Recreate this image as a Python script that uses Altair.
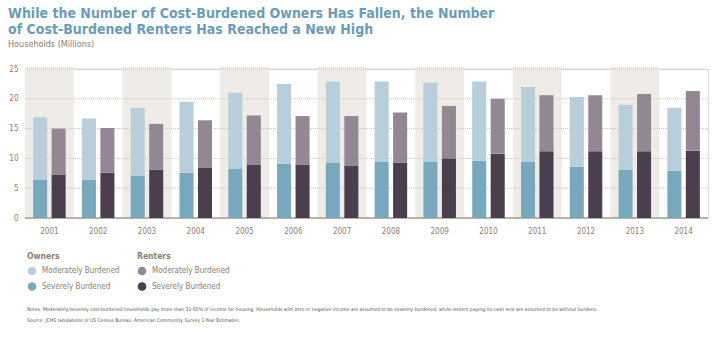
import altair as alt
import pandas as pd

years = ["2001", "2002", "2003", "2004", "2005", "2006", "2007",
         "2008", "2009", "2010", "2011", "2012", "2013", "2014"]
owners_severe = [6.4, 6.4, 7.1, 7.6, 8.3, 9.1, 9.3, 9.4, 9.4, 9.6, 9.4, 8.6, 8.1, 7.9]
owners_moderate = [10.5, 10.3, 11.4, 11.9, 12.7, 13.4, 13.6, 13.5, 13.3, 13.3, 12.6, 11.7, 10.9, 10.6]
renters_severe = [7.3, 7.6, 8.1, 8.4, 8.9, 8.9, 8.8, 9.3, 10.0, 10.8, 11.2, 11.2, 11.2, 11.3]
renters_moderate = [7.7, 7.5, 7.7, 8.0, 8.3, 8.2, 8.3, 8.4, 8.8, 9.2, 9.4, 9.4, 9.6, 10.0]

tenures = ["Owners", "Renters"]
burdens = ["Moderately Burdened", "Severely Burdened"]
series_domain = ["Owners Moderately Burdened", "Owners Severely Burdened",
                 "Renters Moderately Burdened", "Renters Severely Burdened"]
series_colors = ["#b8cedb", "#78a8be", "#928792", "#4a3e4f"]
y_ticks = [0, 5, 10, 15, 20, 25]

title_lines = ["While the Number of Cost-Burdened Owners Has Fallen, the Number",
               "of Cost-Burdened Renters Has Reached a New High"]
subtitle = "Households (Millions)"
notes = ["Notes: Moderately/severely cost-burdened households pay more than 31-50% of income for housing. Households with zero or negative income are assumed to be severely burdened, while renters paying no cash rent are assumed to be without burdens.",
         "Source: JCHS tabulations of US Census Bureau, American Community Survey 1-Year Estimates."]

FONT = "DejaVu Sans Condensed, Roboto Condensed, Liberation Sans Narrow, Arial Narrow, Roboto"
TXT = "#8c7d6f"
W, H = 683, 149

rows = []
for i, yr in enumerate(years):
    for tenure, sev, mod in (("Owners", owners_severe, owners_moderate),
                             ("Renters", renters_severe, renters_moderate)):
        rows.append(dict(year=yr, tenure=tenure, order=0, value=sev[i],
                         series=f"{tenure} Severely Burdened"))
        rows.append(dict(year=yr, tenure=tenure, order=1, value=mod[i],
                         series=f"{tenure} Moderately Burdened"))
df = pd.DataFrame(rows)

x_scale = alt.Scale(domain=years, paddingInner=0, paddingOuter=0)
y_scale = alt.Scale(domain=[0, 25], nice=False, zero=True)
x_axis = alt.Axis(labelAngle=0, ticks=False, domain=False, labelFont=FONT,
                  labelFontSize=8, labelColor=TXT, labelPadding=9, title=None, grid=False)
y_axis = alt.Axis(values=y_ticks, ticks=False, domain=False, labelFont=FONT,
                  labelFontSize=8, labelColor=TXT, labelPadding=7, title=None, grid=False)
x_enc = alt.X("year:N", scale=x_scale, axis=x_axis)

bands = alt.Chart(pd.DataFrame({"year": years[::2]})).mark_rect(color="#efebe6").encode(
    x=x_enc, y=alt.value(-2), y2=alt.value(H))

grid = alt.Chart(pd.DataFrame({"v": y_ticks[1:]})).mark_rule(
    color="#cbc3ba", strokeDash=[1, 1], strokeWidth=1).encode(
    y=alt.Y("v:Q", scale=y_scale, axis=y_axis), x=alt.value(0), x2=alt.value(W))

base = alt.Chart(pd.DataFrame({"v": [0]})).mark_rule(
    color="#aa9f94", strokeWidth=1.5).encode(
    y=alt.Y("v:Q", scale=y_scale, axis=y_axis), x=alt.value(0), x2=alt.value(W))

bars = alt.Chart(df).transform_stack(
    stack="value", groupby=["year", "tenure"], as_=["v0", "v1"],
    sort=[alt.SortField("order")]).mark_bar().encode(
    x=x_enc,
    xOffset=alt.XOffset("tenure:N", scale=alt.Scale(domain=tenures, paddingInner=0.24, paddingOuter=0.44)),
    y=alt.Y("v0:Q", scale=y_scale, axis=y_axis),
    y2="v1:Q",
    color=alt.Color("series:N", scale=alt.Scale(domain=series_domain, range=series_colors), legend=None),
)

layers = [bands, grid, base, bars]

# custom legend
for t, tenure in enumerate(tenures):
    dx = t * 110
    layers.append(alt.Chart(pd.DataFrame({"t": [tenure]})).mark_text(
        font=FONT, fontSize=8.5, fontWeight="bold", color=TXT, align="left", baseline="middle").encode(
        text="t:N", x=alt.value(2 + dx), y=alt.value(187)))
    for r, burden in enumerate(burdens):
        color = series_colors[series_domain.index(f"{tenure} {burden}")]
        layers.append(alt.Chart(pd.DataFrame({"b": [burden]})).mark_point(
            shape="circle", filled=True, size=75, opacity=1, color=color).encode(
            x=alt.value(7 + dx), y=alt.value(202 + 15.5 * r)))
        layers.append(alt.Chart(pd.DataFrame({"b": [burden]})).mark_text(
            font=FONT, fontSize=8, color=TXT, align="left", baseline="middle").encode(
            text="b:N", x=alt.value(17 + dx), y=alt.value(202 + 15.5 * r)))

for k, note in enumerate(notes):
    layers.append(alt.Chart(pd.DataFrame({"n": [note]})).mark_text(
        font=FONT, fontSize=5.0, color="#555555", align="left", baseline="middle").encode(
        text="n:N", x=alt.value(2), y=alt.value(239.5 + 11 * k)))

chart = alt.layer(*layers).properties(
    width=W, height=H,
    autosize=alt.AutoSizeParams(type="none"),
    padding={"left": 25, "top": 69, "right": 12, "bottom": 126},
    title=alt.TitleParams(
        text=title_lines, subtitle=subtitle, anchor="start", frame="group", dx=-17, offset=16,
        font=FONT, fontSize=14, fontWeight="bold", color="#6a9cba", lineHeight=16,
        subtitleFont=FONT, subtitleFontSize=9, subtitleColor=TXT, subtitlePadding=3),
).configure_view(stroke=None).configure(background="white")

chart.save("out.html", embed_options={"renderer": "svg", "actions": False})
